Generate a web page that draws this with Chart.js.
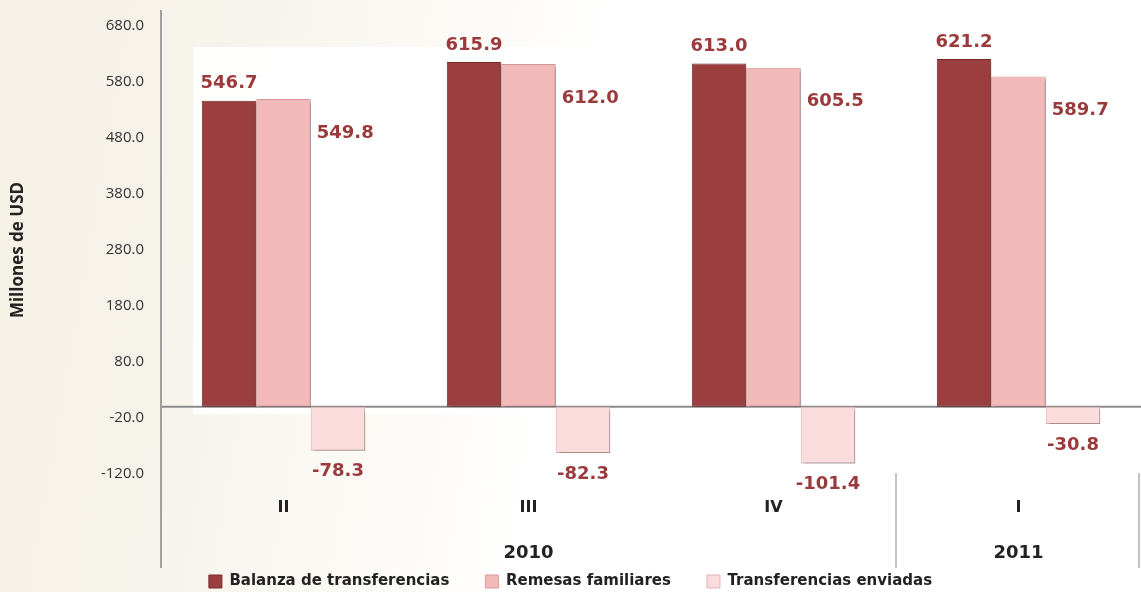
<!DOCTYPE html>
<html>
<head>
<meta charset="utf-8">
<script src="https://cdn.jsdelivr.net/npm/chart.js@4.4.1/dist/chart.umd.min.js"></script>
<style>
  html, body { margin: 0; padding: 0; }
  body {
    width: 1141px; height: 592px; overflow: hidden;
    background: linear-gradient(100deg, #f5f1e6 0%, #f6f3eb 18%, #fbf9f4 34%, #ffffff 50%);
  }
  #wrap { position: relative; width: 1141px; height: 592px; }
</style>
</head>
<body>
<div id="wrap"><canvas id="remesasChart" width="1141" height="592"></canvas></div>
<script>
let quarters = ["II", "III", "IV", "I"];
let years = ["2010", "2011"];
let yearSpan = [3, 1];
let balanza = [546.7, 615.9, 613.0, 621.2];
let remesas = [549.8, 612.0, 605.5, 589.7];
let enviadas = [-78.3, -82.3, -101.4, -30.8];
let seriesNames = ["Balanza de transferencias", "Remesas familiares", "Transferencias enviadas"];
let yTicks = [-120, -20, 80, 180, 280, 380, 480, 580, 680];

let barColors = ["#9b3e40", "#f3b8b8", "#fbdcdd"];
let edgeColors = ["#7b2a2c", "#d99a9a", "#e0b4b5"];
let labelColor = "#9b3a3c";

// white panel behind the bars, texture on the left
const backPanel = {
  id: "backPanel",
  beforeDraw(chart) {
    const ctx = chart.ctx;
    ctx.save();
    ctx.fillStyle = "rgba(255,255,255,0.95)";
    ctx.fillRect(193, 47, chart.chartArea.right - 193, 367);
    ctx.restore();
  }
};

const axisLines = {
  id: "axisLines",
  beforeDatasetsDraw(chart) {
    const ctx = chart.ctx;
    const y0 = chart.scales.y.getPixelForValue(0);
    ctx.save();
    ctx.strokeStyle = "#8c8c8c";
    ctx.lineWidth = 2;
    ctx.beginPath();
    ctx.moveTo(chart.chartArea.left, y0);
    ctx.lineTo(chart.chartArea.right, y0);
    ctx.stroke();
    ctx.restore();
  },
  beforeDatasetDraw(chart) {
    const ctx = chart.ctx;
    ctx.save();
    ctx.shadowColor = "rgba(0,0,0,0.35)";
    ctx.shadowBlur = 3;
    ctx.shadowOffsetX = 2;
    ctx.shadowOffsetY = 2;
  },
  afterDatasetDraw(chart) {
    chart.ctx.restore();
  },
  afterDraw(chart) {
    const ctx = chart.ctx;
    const x = chart.scales.x;
    const left = chart.chartArea.left;
    ctx.save();
    ctx.strokeStyle = "#a0a0a0";
    ctx.lineWidth = 2;
    ctx.beginPath();
    ctx.moveTo(left, 10);
    ctx.lineTo(left, 568);
    ctx.stroke();

    // year groups under the quarters
    ctx.fillStyle = "#222";
    ctx.font = "bold 18px 'DejaVu Sans'";
    ctx.textAlign = "center";
    ctx.textBaseline = "middle";
    let start = 0;
    ctx.lineWidth = 1.5;
    ctx.strokeStyle = "#b0b0b0";
    for (let i = 0; i < years.length; i++) {
      const end = start + yearSpan[i] - 1;
      const cx = (x.getPixelForValue(start) + x.getPixelForValue(end)) / 2;
      ctx.fillText(years[i], cx, 553);
      const half = (x.getPixelForValue(1) - x.getPixelForValue(0)) / 2;
      let sx = x.getPixelForValue(end) + half;
      if (sx > chart.chartArea.right - 2) sx = chart.chartArea.right - 2;
      ctx.beginPath();
      ctx.moveTo(sx, 473);
      ctx.lineTo(sx, 568);
      ctx.stroke();
      start = end + 1;
    }
    ctx.restore();
  }
};

const valueLabels = {
  id: "valueLabels",
  afterDatasetsDraw(chart) {
    const ctx = chart.ctx;
    ctx.save();
    ctx.fillStyle = labelColor;
    ctx.font = "bold 18px 'DejaVu Sans'";
    ctx.textBaseline = "middle";
    chart.data.datasets.forEach((ds, d) => {
      chart.getDatasetMeta(d).data.forEach((bar, i) => {
        const txt = ds.data[i].toFixed(1);
        if (d === 0) {
          ctx.textAlign = "center";
          ctx.fillText(txt, bar.x, bar.y - 17);
        } else if (d === 1) {
          ctx.textAlign = "left";
          ctx.fillText(txt, bar.x + bar.width / 2 + 6, bar.y + 34);
        } else {
          ctx.textAlign = "center";
          ctx.fillText(txt, bar.x, bar.y + 21);
        }
      });
    });
    ctx.restore();
  }
};

const ctx = document.getElementById("remesasChart").getContext("2d");
const myChart = new Chart(ctx, {
  type: "bar",
  data: {
    labels: quarters,
    datasets: [balanza, remesas, enviadas].map((vals, k) => ({
      label: seriesNames[k],
      data: vals,
      backgroundColor: barColors[k],
      borderColor: edgeColors[k],
      borderWidth: 1,
      borderSkipped: false,
      categoryPercentage: 0.667,
      barPercentage: 1.0
    }))
  },
  options: {
    responsive: false,
    animation: false,
    layout: { padding: { top: 20, right: 0, bottom: 0, left: 0 } },
    plugins: {
      tooltip: { enabled: false },
      legend: {
        position: "bottom",
        maxHeight: 54,
        labels: {
          boxWidth: 13,
          boxHeight: 13,
          padding: 36,
          color: "#222",
          font: { family: "'DejaVu Sans'", size: 15, weight: "bold" }
        }
      }
    },
    scales: {
      x: {
        grid: { display: false, drawTicks: false },
        border: { display: false },
        ticks: {
          padding: 24,
          color: "#222",
          font: { family: "'DejaVu Sans'", size: 16, weight: "bold" }
        },
        afterFit(scale) { scale.height = 64; }
      },
      y: {
        min: -120,
        max: 680,
        afterBuildTicks(scale) { scale.ticks = yTicks.map(v => ({ value: v })); },
        grid: { display: false, drawTicks: false },
        border: { display: false },
        ticks: {
          padding: 17,
          color: "#333",
          font: { family: "'Open Sans'", size: 15 },
          callback: v => v.toFixed(1)
        },
        title: {
          display: true,
          text: "Millones de USD",
          color: "#222",
          padding: { top: 8, bottom: 0 },
          font: { family: "'Open Sans'", size: 17, weight: "bold" }
        },
        afterFit(scale) { scale.width = 161; }
      }
    }
  },
  plugins: [backPanel, axisLines, valueLabels]
});
</script>
</body>
</html>
